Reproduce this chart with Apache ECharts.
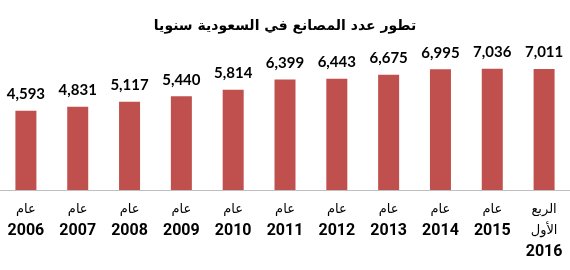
<!DOCTYPE html>
<html><head><meta charset="utf-8">
<script src="https://cdn.jsdelivr.net/npm/echarts@6/dist/echarts.min.js"></script>
<style>html,body{margin:0;padding:0;background:#fff}#c{width:570px;height:270px}</style>
</head><body><div id="c"></div>
<script>
var titleText = 'تطور عدد المصانع في السعودية سنويا';
var categories = ['عام\n2006','عام\n2007','عام\n2008','عام\n2009','عام\n2010','عام\n2011','عام\n2012','عام\n2013','عام\n2014','عام\n2015','الربع\nالأول\n2016'];
var factories = [4593, 4831, 5117, 5440, 5814, 6399, 6443, 6675, 6995, 7036, 7011];

var chart = echarts.init(document.getElementById('c'), null, {renderer:'canvas'});
chart.setOption({
  animation:false,
  title:{text:titleText,left:'center',top:14,textStyle:{fontFamily:'"DejaVu Sans", sans-serif',fontWeight:'bold',fontSize:14,color:'#000'}},
  grid:{left:-1,width:574,top:52,height:138},
  xAxis:{type:'category',data:categories,
    axisLine:{lineStyle:{color:'#bfbfbf',width:1}},axisTick:{show:false},
    axisLabel:{interval:0,margin:9,
      formatter:function(v){var parts=v.split('\n');var out=[];for(var i=0;i<parts.length;i++){out.push(/^\d+$/.test(parts[i])?'{y|'+parts[i]+'}':'{a|'+parts[i]+'}');}return out.join('\n');},
      rich:{a:{fontFamily:'"DejaVu Sans", sans-serif',fontSize:13,color:'#000',lineHeight:21},
            y:{fontFamily:'Roboto, sans-serif',fontWeight:'bold',fontSize:16,color:'#000',lineHeight:21}}}},
  yAxis:{type:'value',min:0,max:8000,show:false,splitLine:{show:false}},
  series:[{type:'bar',data:factories,barWidth:21,itemStyle:{color:'#c0504d'},
    label:{show:true,position:'top',distance:9,color:'#000',fontFamily:'Lato, "Open Sans", sans-serif',fontWeight:'bold',fontSize:15,
      formatter:function(p){return p.value.toLocaleString('en-US');}}}]
});
</script></body></html>
